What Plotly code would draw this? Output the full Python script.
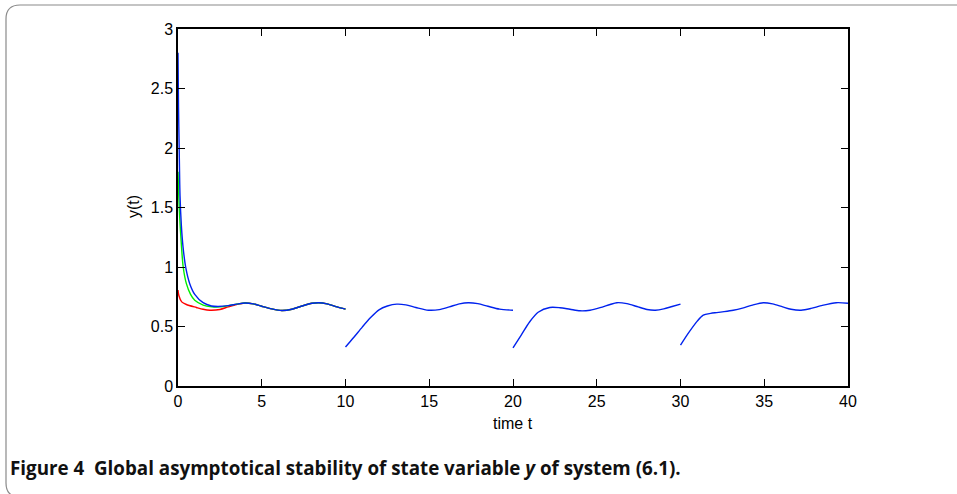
import plotly.graph_objects as go

# ---- data ----
t_red = [0, 0.05, 0.22, 0.5, 1.1, 1.5, 1.9, 2.5, 3.0, 3.5, 4.0, 4.5, 5.0, 5.6, 6.2, 6.8, 7.4, 8.0, 8.4, 8.9, 9.5, 10.0]
y_red = [0.806, 0.76, 0.707, 0.685, 0.66, 0.645, 0.637, 0.643, 0.665, 0.685, 0.698, 0.69, 0.67, 0.648, 0.635, 0.645, 0.672, 0.695, 0.70, 0.69, 0.665, 0.646]

t_green = [0, 0.05, 0.1, 0.2, 0.31, 0.5, 0.75, 1.0, 1.5, 2.0, 2.5, 3.0, 3.5, 4.0, 4.5, 5.0, 5.6, 6.2, 6.8, 7.4, 8.0, 8.4, 8.9, 9.5, 10.0]
y_green = [1.80, 1.58, 1.42, 1.19, 1.0, 0.86, 0.77, 0.72, 0.68, 0.666, 0.665, 0.675, 0.688, 0.698, 0.69, 0.67, 0.648, 0.635, 0.645, 0.672, 0.695, 0.70, 0.69, 0.665, 0.646]

t_blue = [0, 0.03, 0.07, 0.12, 0.2, 0.3, 0.47, 0.7, 1.0, 1.5, 2.0, 2.4, 3.0, 3.5, 4.0, 4.5, 5.0, 5.6, 6.2, 6.8, 7.4, 8.0, 8.4, 8.9, 9.5, 10.0,
          None,
          10.0, 10.5, 11.0, 11.5, 12.0, 12.5, 13.06, 13.6, 14.2, 14.95, 15.6, 16.2, 16.8, 17.33, 17.9, 18.5, 19.2, 20.0,
          None,
          20.0, 20.5, 21.0, 21.5, 22.2, 22.8, 23.4, 24.0, 24.6, 25.2, 25.8, 26.2, 26.8, 27.4, 28.0, 28.5, 29.0, 29.5, 30.0,
          None,
          30.0, 30.5, 31.0, 31.36, 31.8, 32.16, 32.6, 33.15, 33.7, 34.3, 34.94, 35.5, 36.1, 36.6, 37.2, 37.8, 38.4, 39.3, 40.0]
y_blue = [2.80, 2.35, 2.0, 1.6, 1.35, 1.17, 0.99, 0.86, 0.77, 0.70, 0.672, 0.668, 0.675, 0.688, 0.698, 0.69, 0.67, 0.648, 0.635, 0.645, 0.672, 0.695, 0.70, 0.69, 0.665, 0.646,
          None,
          0.328, 0.41, 0.495, 0.575, 0.64, 0.672, 0.688, 0.682, 0.66, 0.637, 0.642, 0.665, 0.69, 0.70, 0.692, 0.67, 0.646, 0.637,
          None,
          0.32, 0.43, 0.54, 0.62, 0.66, 0.658, 0.645, 0.632, 0.637, 0.658, 0.685, 0.70, 0.692, 0.668, 0.643, 0.637, 0.648, 0.668, 0.688,
          None,
          0.343, 0.45, 0.545, 0.595, 0.61, 0.617, 0.625, 0.637, 0.655, 0.68, 0.70, 0.69, 0.665, 0.645, 0.637, 0.652, 0.675, 0.70, 0.695]

x_ticks = [0, 5, 10, 15, 20, 25, 30, 35, 40]
y_ticks = [0, 0.5, 1, 1.5, 2, 2.5, 3]
y_tick_text = ["0", "0.5", "1", "1.5", "2", "2.5", "3"]

x_label = "time t"
y_label = "y(t)"
caption = "Figure 4  Global asymptotical stability of state variable <i>y</i> of system (6.1)."

# ---- figure ----
W, H = 957, 494
L, R, T, B = 178, 109, 29, 108
pw, ph = W - L - R, H - T - B

def px_x(p):
    return (p - L) / pw

def px_y(p):
    return (H - B - p) / ph

fig = go.Figure()
line_w = 1.4
fig.add_trace(go.Scatter(x=t_red, y=y_red, mode="lines", line=dict(color="#ff0000", width=line_w, shape="spline", smoothing=0.8), showlegend=False, cliponaxis=False))
fig.add_trace(go.Scatter(x=t_green, y=y_green, mode="lines", line=dict(color="#00ee00", width=line_w, shape="spline", smoothing=0.8), showlegend=False, cliponaxis=False))
fig.add_trace(go.Scatter(x=t_blue, y=y_blue, mode="lines", line=dict(color="#0022ee", width=line_w, shape="spline", smoothing=0.8), showlegend=False, connectgaps=False, cliponaxis=False))

axis_font = dict(family="Liberation Sans, Arial, sans-serif", size=16, color="#000")
fig.update_xaxes(range=[0, 40], tickvals=x_ticks, ticks="inside", ticklen=7, tickwidth=1, tickcolor="#000",
                 showline=True, linecolor="#000", linewidth=1.5, mirror="allticks", showgrid=False, zeroline=False,
                 tickfont=axis_font)
fig.update_yaxes(range=[0, 3], tickvals=y_ticks, ticktext=y_tick_text, ticks="inside", ticklen=7, tickwidth=1, tickcolor="#000",
                 showline=True, linecolor="#000", linewidth=1.5, mirror="allticks", showgrid=False, zeroline=False,
                 tickfont=axis_font)

# rounded frame (right and bottom edges lie outside the picture)
x0, x1 = px_x(6), px_x(1000)
y0, y1 = px_y(5), px_y(497)
rx, ry = 14 / pw, 14 / ph
path = (f"M {x0+rx},{y0} L {x1},{y0} L {x1},{y1} L {x0+rx},{y1} "
        f"Q {x0},{y1} {x0},{y1+ry} L {x0},{y0-ry} Q {x0},{y0} {x0+rx},{y0} Z")
fig.add_shape(type="path", path=path, xref="paper", yref="paper", line=dict(color="#8a8a8a", width=1.2), layer="below")

fig.add_annotation(text=x_label, x=px_x(513), y=px_y(423), xref="paper", yref="paper", showarrow=False,
                   xanchor="center", yanchor="middle", font=axis_font)
fig.add_annotation(text=y_label, x=px_x(133), y=px_y(207), xref="paper", yref="paper", showarrow=False,
                   xanchor="center", yanchor="middle", textangle=-90, font=axis_font)
fig.add_annotation(text="<b>" + caption + "</b>", x=px_x(8), y=px_y(468), xref="paper", yref="paper", showarrow=False,
                   xanchor="left", yanchor="middle",
                   font=dict(family="Open Sans, Noto Sans, sans-serif", size=18.8, color="#111"))

fig.update_layout(width=W, height=H, margin=dict(l=L, r=R, t=T, b=B, autoexpand=False),
                  paper_bgcolor="white", plot_bgcolor="white")

fig.write_html("out.html", config={"displayModeBar": False},
               post_script="document.body.style.margin='0px';document.body.style.overflow='hidden';")
